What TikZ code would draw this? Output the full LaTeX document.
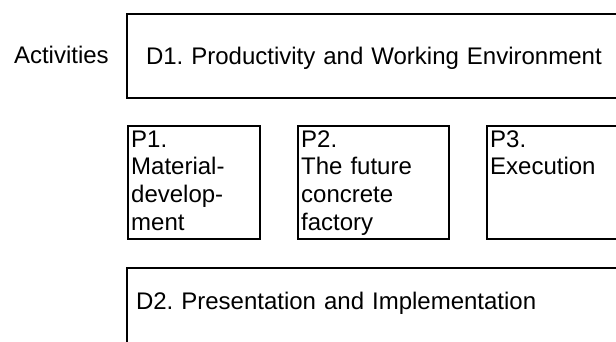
\documentclass[tikz,border=0pt]{standalone}
\usepackage{fontspec}
\setmainfont{Liberation Sans}
\usepackage{tikz}
\frenchspacing

\begin{document}
\begin{tikzpicture}[x=1pt, y=-1pt, line width=2pt, font=\fontsize{24}{27.6}\selectfont,
  box/.style={draw, rectangle, anchor=north west, align=left, inner ysep=0pt},
  wp/.style={box, inner xsep=3.5pt, text height=21pt, text depth=91.7pt}]
   \clip (0,0) rectangle (616,342);
   \node [inner sep=0pt, anchor=base west] (act) at (13,64) {Activities};
   \node [box, inner xsep=19pt, text width=500pt, text height=51.3pt, text depth=33pt] (d1) at (126,12.7) {D1. Productivity and Working Environment};
   \node [wp, text width=125.6pt] (p1) at (126.7,125.3) {P1.\\Material-\\develop-\\ment};
   \node [wp, text width=144pt] (p2) at (296.7,125.3) {P2.\\The future\\concrete\\factory};
   \node [wp, text width=160pt] (p3) at (485.7,125.3) {P3.\\Execution};
   \node [box, inner xsep=9pt, text width=500pt, text height=41.4pt, text depth=80pt] (d2) at (126,267.3) {D2. Presentation and Implementation};
\end{tikzpicture}
\end{document}
